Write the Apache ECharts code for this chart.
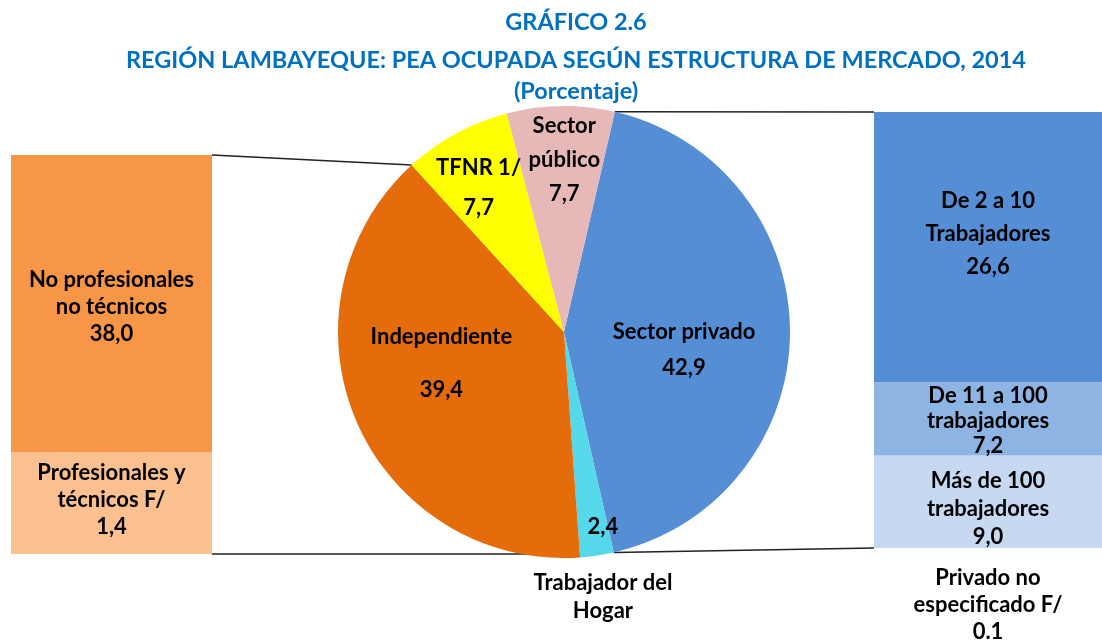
<!DOCTYPE html>
<html>
<head>
<meta charset="utf-8">
<script src="https://cdn.jsdelivr.net/npm/echarts@6/dist/echarts.min.js"></script>
<style>
  html, body { margin: 0; padding: 0; background: #fff; }
  #main { width: 1102px; height: 642px; }
</style>
</head>
<body>
<div id="main"></div>
<script>
// datos del gráfico
var pieNames = ['Sector privado', 'Trabajador del Hogar', 'Independiente', 'TFNR 1/', 'Sector público'];
var pieValues = [42.9, 2.4, 39.4, 7.7, 7.7];
var pieLabels = ['Sector privado', '\n\nTrabajador del\nHogar', 'Independiente', 'TFNR 1/', 'Sector\npúblico'];

var leftNames = ['Profesionales y técnicos F/', 'No profesionales no técnicos'];
var leftValues = [1.4, 38.0];
var leftLabels = ['Profesionales y\ntécnicos F/', 'No profesionales\nno técnicos'];

var rightNames = ['Privado no especificado F/', 'Más de 100 trabajadores', 'De 11 a 100 trabajadores', 'De 2 a 10 Trabajadores'];
var rightValues = [0.1, 9.0, 7.2, 26.6];
var rightLabels = ['Privado no\nespecificado F/', 'Más de 100\ntrabajadores', 'De 11 a 100\ntrabajadores', 'De 2 a 10\nTrabajadores'];

// estilos
var FONT = 'Lato';
var pieColors = ['#558ED5', '#54D8EA', '#E46C0A', '#FFFF00', '#E6B9B8'];
var leftColors = ['#FAC090', '#F79646'];
var rightColors = ['#C6D9F1', '#C6D9F1', '#8EB4E3', '#558ED5'];
var pieCenter = [564, 332];
var pieRadius = 226;
var pieStart = 77;
// desplazamiento de etiquetas y alto de linea del pie
var pieLabelShift = [[2, 9], [11, 61], [-8, -7], [-15, -21], [1, -28]];
var pieLineHeight = [36, 28, 53, 40, 34];
var leftGrid = { left: 11, width: 201, top: 155, bottom: 88 };
var rightGrid = { left: 874, width: 228, top: 112, bottom: 94 };

function fmt(v) {
  return v.toFixed(1).replace('.', ',');
}

var chart = echarts.init(document.getElementById('main'));

var labelBase = {
  show: true,
  color: '#000',
  fontFamily: FONT,
  fontWeight: 'bold',
  fontSize: 22
};

var series = [];

series.push({
  type: 'pie',
  center: pieCenter,
  radius: pieRadius,
  startAngle: pieStart,
  clockwise: true,
  silent: true,
  itemStyle: { borderWidth: 0 },
  label: Object.assign({}, labelBase, { position: 'inside' }),
  labelLine: { show: false },
  labelLayout: function (p) {
    var s = pieLabelShift[p.dataIndex];
    return { dx: s[0], dy: s[1] };
  },
  data: pieNames.map(function (n, i) {
    return {
      name: n,
      value: pieValues[i],
      itemStyle: { color: pieColors[i] },
      label: {
        lineHeight: pieLineHeight[i],
        formatter: (i === 1 ? fmt(pieValues[i]) + pieLabels[i] : pieLabels[i] + '\n' + fmt(pieValues[i]))
      }
    };
  })
});

// barra izquierda (independiente)
var leftOffsets = [[0, -3], [0, -41]];
leftNames.forEach(function (n, i) {
  series.push({
    type: 'bar',
    name: n,
    xAxisIndex: 0,
    yAxisIndex: 0,
    stack: 'izq',
    barWidth: '100%',
    barMinHeight: i === 0 ? 102 : 0,
    z: i === 0 ? 3 : 2,
    silent: true,
    itemStyle: { color: leftColors[i] },
    label: Object.assign({}, labelBase, {
      position: 'inside',
      lineHeight: 27,
      offset: leftOffsets[i],
      formatter: leftLabels[i] + '\n' + fmt(leftValues[i])
    }),
    data: [leftValues[i]]
  });
});

// barra derecha (sector privado)
var rightOffsets = [[0, 0], [0, 8], [0, 2], [0, -13]];
var rightLH = [27, 28, 25, 33];
rightNames.forEach(function (n, i) {
  var lab = Object.assign({}, labelBase, {
    position: i === 0 ? 'bottom' : 'inside',
    distance: 16,
    lineHeight: rightLH[i],
    offset: rightOffsets[i],
    formatter: i === 0 ? rightLabels[i] + '\n' + rightValues[i].toFixed(1) : rightLabels[i] + '\n' + fmt(rightValues[i])
  });
  series.push({
    type: 'bar',
    name: n,
    xAxisIndex: 1,
    yAxisIndex: 1,
    stack: 'der',
    barWidth: '100%',
    silent: true,
    itemStyle: { color: rightColors[i] },
    label: lab,
    data: [rightValues[i]]
  });
});

var sum = function (a) { return a.reduce(function (s, v) { return s + v; }, 0); };
var leftTotal = sum(leftValues);
var rightTotal = sum(rightValues);

var option = {
  backgroundColor: '#fff',
  animation: false,
  title: [
    { text: 'GRÁFICO 2.6', top: 5 },
    { text: 'REGIÓN LAMBAYEQUE: PEA OCUPADA SEGÚN ESTRUCTURA DE MERCADO, 2014', top: 43 },
    { text: '(Porcentaje)', top: 74 }
  ].map(function (t) {
    return {
      text: t.text,
      left: 571,
      top: t.top,
      textAlign: 'center',
      textStyle: { color: '#0070C0', fontFamily: FONT, fontWeight: 'bold', fontSize: 23.5 }
    };
  }),
  grid: [
    { left: leftGrid.left, width: leftGrid.width, top: leftGrid.top, bottom: leftGrid.bottom },
    { left: rightGrid.left, width: rightGrid.width, top: rightGrid.top, bottom: rightGrid.bottom }
  ],
  xAxis: [
    { type: 'category', gridIndex: 0, data: ['Independiente'], show: false },
    { type: 'category', gridIndex: 1, data: ['Sector privado'], show: false }
  ],
  yAxis: [
    { type: 'value', gridIndex: 0, min: 0, max: leftTotal, show: false },
    { type: 'value', gridIndex: 1, min: 0, max: rightTotal, show: false }
  ],
  series: series
};

chart.setOption(option);

// lineas de conexion entre el pie y las barras
function piePoint(cumValue) {
  var total = sum(pieValues);
  var ang = (pieStart - cumValue / total * 360) * Math.PI / 180;
  return [pieCenter[0] + pieRadius * Math.cos(ang), pieCenter[1] - pieRadius * Math.sin(ang)];
}
var cum = [0];
pieValues.forEach(function (v, i) { cum.push(cum[i] + v); });

var lTop = chart.convertToPixel({ yAxisIndex: 0 }, leftTotal);
var lBot = chart.convertToPixel({ yAxisIndex: 0 }, 0);
var rTop = chart.convertToPixel({ yAxisIndex: 1 }, rightTotal);
var rBot = chart.convertToPixel({ yAxisIndex: 1 }, 0);
var lx = leftGrid.left + leftGrid.width;
var rx = rightGrid.left;

var pIndTop = piePoint(cum[3]);   // limite Independiente / TFNR
var pIndBot = piePoint(cum[2]);   // limite Hogar / Independiente
var pPrivTop = piePoint(cum[0]);
var pPrivBot = piePoint(cum[1]);

var segs = [
  [[lx, lTop], pIndTop],
  [[lx, lBot], [pIndBot[0] - 16, lBot]],
  [[rx, rTop], pPrivTop],
  [[rx, rBot], pPrivBot]
];

chart.setOption({
  graphic: segs.map(function (s) {
    return {
      type: 'line',
      silent: true,
      z: 1,
      shape: { x1: s[0][0], y1: s[0][1], x2: s[1][0], y2: s[1][1] },
      style: { stroke: '#222', lineWidth: 1.5 }
    };
  })
});
</script>
</body>
</html>
